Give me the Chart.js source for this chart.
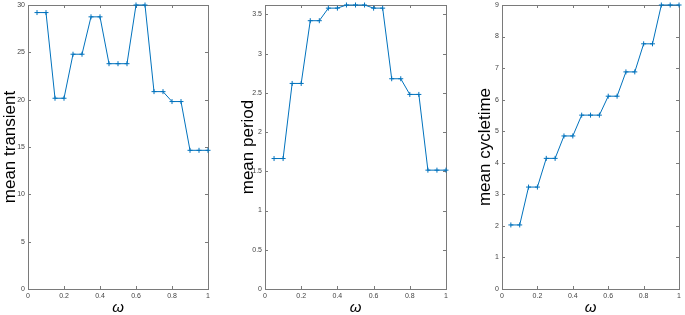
<!DOCTYPE html>
<html>
<head>
<meta charset="utf-8">
<script src="https://cdn.jsdelivr.net/npm/chart.js@4.4.1/dist/chart.umd.min.js"></script>
<style>
  html, body { margin: 0; padding: 0; background: #fff; }
  #wrap { position: relative; width: 685px; height: 315px; }
  .panel { position: absolute; top: 0; height: 315px; }
</style>
</head>
<body>
<div id="wrap">
  <div class="panel" style="left:0;width:220px"><canvas id="c1"></canvas></div>
  <div class="panel" style="left:230px;width:228px"><canvas id="c2"></canvas></div>
  <div class="panel" style="left:460px;width:225px"><canvas id="c3"></canvas></div>
</div>
<script>
const omega = [0.05, 0.10, 0.15, 0.20, 0.25, 0.30, 0.35, 0.40, 0.45, 0.50,
               0.55, 0.60, 0.65, 0.70, 0.75, 0.80, 0.85, 0.90, 0.95, 1.00];

const meanTransient = [29.2, 29.2, 20.15, 20.15, 24.8, 24.8, 28.75, 28.75, 23.8, 23.8,
                       23.8, 30.0, 30.0, 20.85, 20.85, 19.8, 19.8, 14.65, 14.65, 14.65];

const meanPeriod = [1.663, 1.663, 2.62, 2.62, 3.42, 3.42, 3.58, 3.58, 3.62, 3.62,
                    3.62, 3.58, 3.58, 2.68, 2.68, 2.48, 2.48, 1.515, 1.515, 1.515];

const meanCycletime = [2.03, 2.03, 3.23, 3.23, 4.14, 4.14, 4.85, 4.85, 5.51, 5.51,
                       5.51, 6.11, 6.11, 6.88, 6.88, 7.77, 7.77, 9.0, 9.0, 9.0];

const xTickStep = 0.2;

const LINE = '#0072BD';
const AXIS = '#7a7a7a';
const FONT = '"Liberation Sans", Arial, sans-serif';

// MATLAB style box with inward ticks, drawn under the data
const boxTicks = {
  id: 'boxTicks',
  beforeDatasetsDraw(chart) {
    const { ctx, chartArea: a, scales: { x, y } } = chart;
    const len = 3;
    ctx.save();
    ctx.strokeStyle = AXIS;
    ctx.lineWidth = 1;
    ctx.beginPath();
    x.ticks.forEach(t => {
      const px = Math.round(x.getPixelForValue(t.value)) + 0.5;
      ctx.moveTo(px, a.bottom); ctx.lineTo(px, a.bottom - len);
      ctx.moveTo(px, a.top); ctx.lineTo(px, a.top + len);
    });
    y.ticks.forEach(t => {
      const py = Math.round(y.getPixelForValue(t.value)) + 0.5;
      ctx.moveTo(a.left, py); ctx.lineTo(a.left + len, py);
      ctx.moveTo(a.right, py); ctx.lineTo(a.right - len, py);
    });
    ctx.stroke();
    ctx.strokeRect(Math.round(a.left) + 0.5, Math.round(a.top) + 0.5,
                   Math.round(a.right - a.left), Math.round(a.bottom - a.top));
    ctx.restore();
  }
};

const fmt = v => String(Math.round(v * 100) / 100);

function makePanel(id, values, yLabel, yMax, yStep, yWidth, titlePad, pad) {
  return new Chart(document.getElementById(id), {
    type: 'line',
    data: {
      datasets: [{
        data: omega.map((w, i) => ({ x: w, y: values[i] })),
        borderColor: LINE,
        backgroundColor: LINE,
        borderWidth: 1,
        pointStyle: 'cross',
        pointRadius: 2.5,
        pointBorderWidth: 1,
        tension: 0,
        clip: false
      }]
    },
    options: {
      responsive: true,
      maintainAspectRatio: false,
      animation: false,
      layout: { padding: pad },
      plugins: { legend: { display: false }, tooltip: { enabled: false } },
      scales: {
        x: {
          type: 'linear',
          min: 0,
          max: 1,
          grid: { display: false, drawTicks: false },
          border: { display: false },
          ticks: {
            stepSize: xTickStep,
            includeBounds: false,
            padding: 4,
            maxRotation: 0,
            color: '#444',
            font: { family: FONT, size: 7, lineHeight: 1 },
            callback: fmt
          },
          title: {
            display: true,
            text: 'ω',
            color: '#000',
            padding: { top: 0, bottom: 0 },
            font: { family: FONT, size: 15, style: 'italic', lineHeight: 1 }
          },
          afterFit: s => { s.height = 26; }
        },
        y: {
          type: 'linear',
          min: 0,
          max: yMax,
          grid: { display: false, drawTicks: false },
          border: { display: false },
          ticks: {
            stepSize: yStep,
            includeBounds: false,
            padding: 3,
            color: '#444',
            font: { family: FONT, size: 7, lineHeight: 0.2 },
            callback: fmt
          },
          title: {
            display: true,
            text: yLabel,
            color: '#000',
            padding: { top: titlePad, bottom: 0 },
            font: { family: FONT, size: 17, lineHeight: 1.2 }
          },
          afterFit: s => { s.width = yWidth; }
        }
      }
    },
    plugins: [boxTicks]
  });
}

makePanel('c1', meanTransient, 'mean transient', 30, 5, 28, 0,
          { top: 5, right: 12, bottom: 0, left: 0 });
makePanel('c2', meanPeriod, 'mean period', 3.62, 0.5, 35, 8,
          { top: 3, right: 12, bottom: 0, left: 0 });
makePanel('c3', meanCycletime, 'mean cycletime', 9, 1, 42, 15,
          { top: 3, right: 0, bottom: 0, left: 0 });
</script>
</body>
</html>
